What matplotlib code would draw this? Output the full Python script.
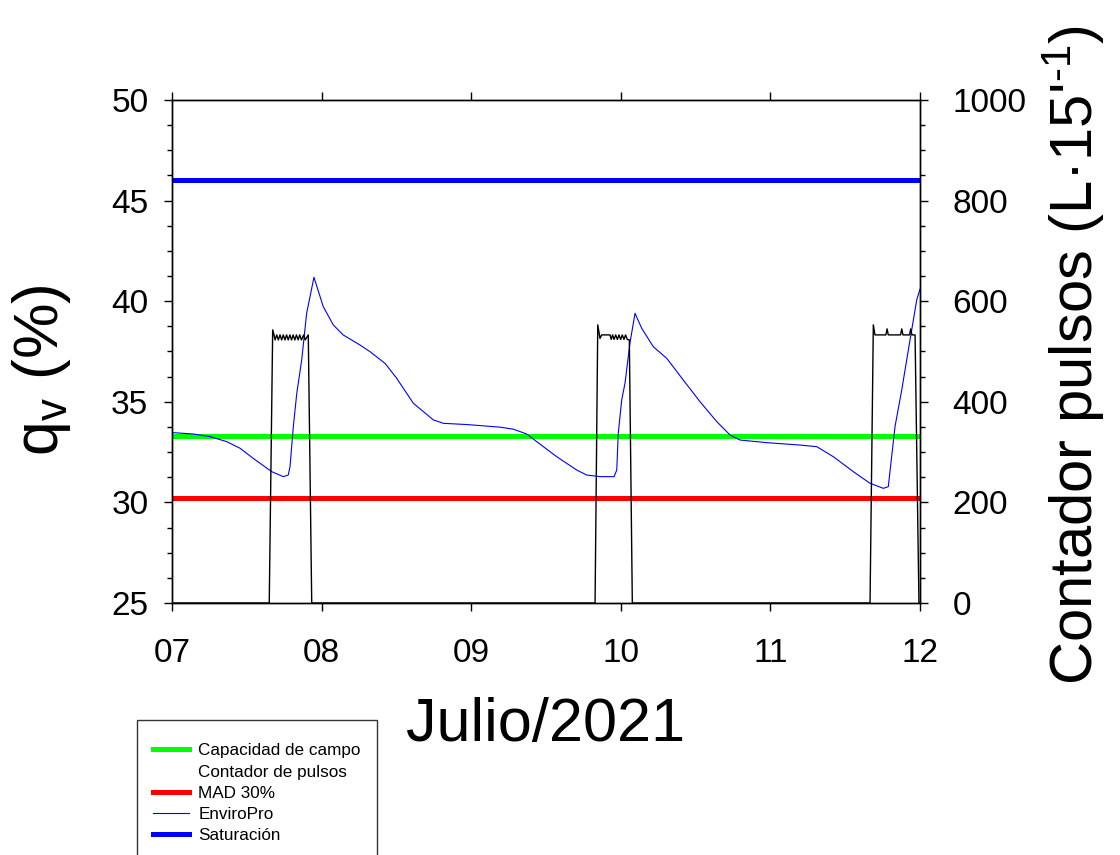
import matplotlib
matplotlib.use('Agg')
import matplotlib.pyplot as plt
from matplotlib.lines import Line2D
from matplotlib.ticker import MultipleLocator

plt.rcParams['font.family'] = 'Liberation Sans'
plt.rcParams['mathtext.fontset'] = 'custom'
plt.rcParams['mathtext.rm'] = 'Liberation Sans'
plt.rcParams['mathtext.it'] = 'Liberation Sans'

# reference levels (%)
saturacion = 46.0
capacidad_campo = 33.3
mad_30 = 30.2

# EnviroPro soil moisture, day of July 2021
enviro_dias = [7.000, 7.142, 7.254, 7.366, 7.455, 7.543, 7.666, 7.744, 7.777, 7.789,
               7.811, 7.834, 7.867, 7.900, 7.949, 8.011, 8.078, 8.145, 8.257, 8.324,
               8.424, 8.502, 8.613, 8.747, 8.814, 8.970, 9.193, 9.281, 9.371, 9.438,
               9.572, 9.705, 9.772, 9.861, 9.955, 9.973, 9.983, 10.006, 10.028, 10.061,
               10.095, 10.140, 10.217, 10.307, 10.418, 10.529, 10.641, 10.730, 10.797, 10.975,
               11.198, 11.310, 11.421, 11.554, 11.666, 11.755, 11.788, 11.833, 11.878, 11.922,
               11.978, 12.000]
enviro_qv = [33.47, 33.40, 33.27, 33.02, 32.69, 32.19, 31.53, 31.28, 31.36, 31.78,
             33.77, 35.42, 37.08, 39.40, 41.19, 39.73, 38.82, 38.32, 37.82, 37.49,
             36.91, 36.17, 34.93, 34.10, 33.93, 33.87, 33.74, 33.64, 33.40, 33.02,
             32.27, 31.61, 31.36, 31.28, 31.28, 31.61, 33.43, 35.09, 35.92, 37.91,
             39.40, 38.65, 37.74, 37.16, 36.08, 35.01, 34.02, 33.35, 33.10, 32.97,
             32.85, 32.77, 32.27, 31.53, 30.95, 30.70, 30.78, 33.77, 35.59, 37.57,
             40.06, 40.60]

# pulse counter (L per 15 min)
pulsos_dias = [7.000, 7.650, 7.673, 7.682,
               7.689, 7.700, 7.711, 7.722, 7.733, 7.744, 7.755, 7.766, 7.777, 7.788,
               7.799, 7.810, 7.821, 7.832, 7.843, 7.854, 7.865, 7.880, 7.890, 7.911, 7.934,
               9.828, 9.846, 9.861, 9.872, 9.928, 9.936, 9.945, 9.955, 9.966, 9.977,
               9.988, 9.999, 10.010, 10.021, 10.032, 10.043, 10.057, 10.077,
               11.666, 11.688, 11.699, 11.772, 11.780, 11.788, 11.870, 11.878, 11.886,
               11.930, 11.938, 11.946, 11.967, 11.993, 12.000]
pulsos_val = [0, 0, 543, 533,
              523, 533, 523, 533, 523, 533, 523, 533, 523, 533,
              523, 533, 523, 533, 523, 533, 523, 533, 523, 533, 0,
              0, 553, 526, 533, 533, 524, 533, 524, 533, 524,
              533, 524, 533, 524, 533, 524, 523, 0,
              0, 553, 533, 533, 545, 533, 533, 545, 533,
              533, 545, 533, 533, 0, 0]

dias_ticks = [7, 8, 9, 10, 11, 12]
dias_labels = ['07', '08', '09', '10', '11', '12']

fig = plt.figure(figsize=(11.2, 8.55), dpi=100)
ax = fig.add_axes([172 / 1120, 252 / 855, 748 / 1120, 503 / 855])

ax.axhline(saturacion, color='#0000ff', lw=3.6, label='Saturación')
ax.axhline(capacidad_campo, color='#00ff00', lw=3.6, label='Capacidad de campo')
ax.axhline(mad_30, color='#ff0000', lw=3.6, label='MAD 30%')
ax.plot(enviro_dias, enviro_qv, color='#0000ff', lw=0.8, label='EnviroPro')

ax.set_xlim(7, 12)
ax.set_ylim(25, 50)
ax.set_xticks(dias_ticks)
ax.set_xticklabels(dias_labels)
ax.yaxis.set_major_locator(MultipleLocator(5))
ax.yaxis.set_minor_locator(MultipleLocator(1.25))
ax.tick_params(axis='both', which='major', direction='out', length=6, width=1,
               labelsize=24)
ax.tick_params(axis='y', which='minor', direction='out', length=3.5, width=1)
ax.tick_params(axis='x', which='major', top=True, pad=19)
ax.tick_params(axis='y', which='major', pad=11)

ax.set_xlabel('Julio/2021', fontsize=44)
ax.xaxis.set_label_coords(0.5, -0.187)
ax.set_ylabel(r'q$_{\mathrm{v}}$ (%)', fontsize=45)
ax.yaxis.set_label_coords(-0.132, 0.463)

ax2 = ax.twinx()
ax2.plot(pulsos_dias, pulsos_val, color='black', lw=1.0)
ax2.set_ylim(0, 1000)
ax2.yaxis.set_major_locator(MultipleLocator(200))
ax2.yaxis.set_minor_locator(MultipleLocator(50))
ax2.tick_params(axis='y', which='major', direction='out', length=6, width=1,
                labelsize=24, pad=17.5)
ax2.tick_params(axis='y', which='minor', direction='out', length=3.5, width=1)
ax2.set_ylabel("Contador pulsos (L\u00b715'$^{\u20101}$)", fontsize=43)
ax2.yaxis.set_label_coords(1.16, 0.493)

for a in (ax, ax2):
    for s in a.spines.values():
        s.set_linewidth(1.0)

handles = [
    Line2D([], [], color='#00ff00', lw=3.6),
    Line2D([], [], color='none', lw=1),
    Line2D([], [], color='#ff0000', lw=3.6),
    Line2D([], [], color='#0000ff', lw=0.8),
    Line2D([], [], color='#0000ff', lw=3.6),
]
labels = ['Capacidad de campo', 'Contador de pulsos', 'MAD 30%', 'EnviroPro', 'Saturación']
# tiny blank title just to push the rows down a few pixels
leg = fig.legend(handles, labels, loc='upper left',
                 bbox_to_anchor=(137 / 1120, 1 - 720 / 855), borderaxespad=0,
                 fontsize=12.3, frameon=True, fancybox=False, edgecolor='black',
                 handlelength=2.1, handletextpad=0.55, borderpad=0.95,
                 labelspacing=0.36, title=' ', title_fontsize=1)
leg.get_frame().set_linewidth(1.0)

fig.savefig('out.png', dpi=100)
